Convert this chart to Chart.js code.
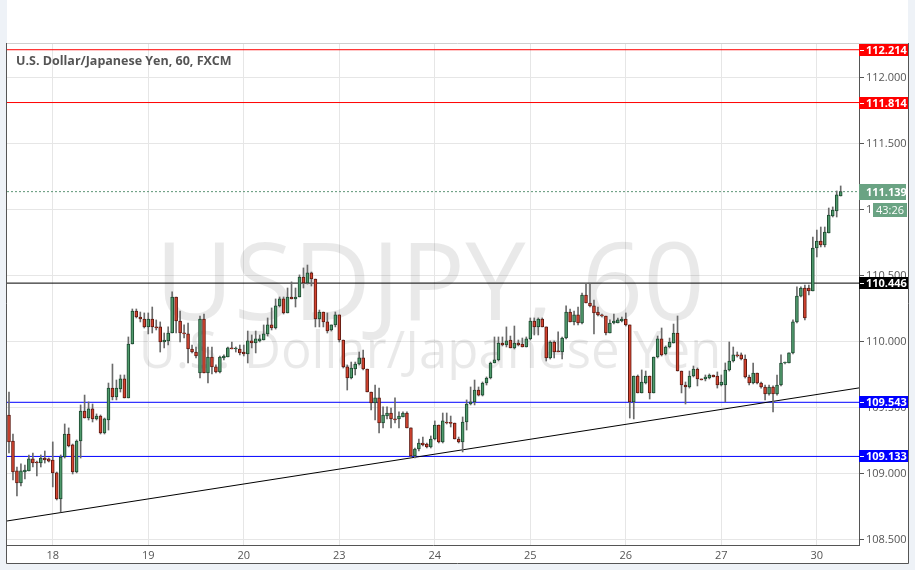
<!DOCTYPE html>
<html>
<head>
<meta charset="utf-8">
<script src="https://cdn.jsdelivr.net/npm/chart.js@4.4.1/dist/chart.umd.min.js"></script>
<style>
    html, body { margin: 0; padding: 0; background: #eef2f7; }
    #wrap { position: relative; width: 915px; height: 570px; }
</style>
</head>
<body>
<div id="wrap"><canvas id="chart" width="915" height="570"></canvas></div>
<script>
// USD/JPY hourly candles (FXCM)
const opens = [
    109.447, 109.250, 109.023, 108.932, 109.015, 109.023, 109.114, 109.091, 109.083, 109.121,
    109.114, 109.106, 109.008, 108.811, 109.129, 109.303, 109.220, 109.015, 109.250, 109.477,
    109.424, 109.493, 109.417, 109.439, 109.311, 109.409, 109.651, 109.583, 109.644, 109.720,
    109.576, 109.985, 110.235, 110.189, 110.174, 110.114, 110.174, 110.114, 110.114, 110.000,
    110.008, 110.068, 110.341, 110.159, 110.068, 110.061, 109.947, 109.924, 109.765, 110.174,
    109.765, 109.886, 109.811, 109.773, 109.879, 109.886, 109.955, 109.947, 109.947, 109.924,
    109.909, 110.008, 109.992, 110.008, 110.015, 110.061, 110.129, 110.106, 110.273, 110.326,
    110.220, 110.341, 110.326, 110.341, 110.492, 110.447, 110.523, 110.477, 110.174, 110.227,
    110.152, 110.091, 110.129, 110.205, 110.015, 109.811, 109.727, 109.795, 109.833, 109.879,
    109.795, 109.621, 109.538, 109.576, 109.386, 109.439, 109.462, 109.417, 109.417, 109.432,
    109.462, 109.349, 109.136, 109.189, 109.235, 109.227, 109.205, 109.265, 109.371, 109.243,
    109.394, 109.386, 109.386, 109.265, 109.243, 109.394, 109.530, 109.546, 109.636, 109.598,
    109.689, 109.727, 109.841, 109.864, 109.992, 109.977, 110.015, 109.955, 109.992, 109.985,
    109.962, 110.023, 110.159, 110.114, 110.174, 110.114, 109.879, 110.000, 109.932, 109.924,
    110.030, 110.227, 110.152, 110.205, 110.144, 110.356, 110.295, 110.273, 110.227, 110.205,
    110.197, 110.068, 110.144, 110.144, 110.159, 110.174, 110.129, 109.546, 109.742, 109.614,
    109.689, 109.742, 109.614, 109.886, 110.023, 109.909, 109.962, 109.992, 110.068, 109.780,
    109.674, 109.659, 109.742, 109.795, 109.720, 109.720, 109.727, 109.750, 109.742, 109.674,
    109.674, 109.788, 109.856, 109.902, 109.902, 109.871, 109.735, 109.689, 109.765, 109.689,
    109.659, 109.606, 109.659, 109.606, 109.674, 109.841, 109.841, 109.917, 110.152, 110.348,
    110.409, 110.409, 110.386, 110.712, 110.765, 110.735, 110.826, 110.955, 110.992, 111.106
];
const highs = [
    109.621, 109.303, 109.053, 109.076, 109.068, 109.144, 109.159, 109.098, 109.144, 109.174,
    109.121, 109.243, 109.015, 109.144, 109.379, 109.349, 109.227, 109.258, 109.523, 109.598,
    109.546, 109.530, 109.455, 109.447, 109.424, 109.689, 109.833, 109.712, 109.750, 109.750,
    110.038, 110.250, 110.250, 110.227, 110.220, 110.220, 110.265, 110.167, 110.152, 110.068,
    110.114, 110.379, 110.341, 110.235, 110.129, 110.144, 109.977, 109.962, 110.197, 110.212,
    109.962, 109.962, 109.826, 109.894, 109.902, 109.962, 110.000, 109.962, 109.977, 109.977,
    110.083, 110.053, 110.083, 110.053, 110.129, 110.182, 110.258, 110.326, 110.341, 110.341,
    110.409, 110.455, 110.409, 110.508, 110.561, 110.583, 110.530, 110.477, 110.242, 110.227,
    110.220, 110.129, 110.227, 110.205, 110.015, 109.826, 109.848, 109.848, 109.924, 109.939,
    109.795, 109.621, 109.674, 109.651, 109.508, 109.508, 109.500, 109.576, 109.470, 109.470,
    109.470, 109.349, 109.197, 109.265, 109.280, 109.235, 109.288, 109.402, 109.371, 109.462,
    109.462, 109.439, 109.386, 109.280, 109.432, 109.561, 109.659, 109.712, 109.659, 109.697,
    109.735, 109.848, 110.038, 110.038, 110.038, 110.114, 110.045, 110.121, 110.015, 110.030,
    110.038, 110.182, 110.182, 110.182, 110.182, 110.114, 110.008, 110.008, 110.076, 110.038,
    110.273, 110.250, 110.235, 110.265, 110.371, 110.439, 110.439, 110.318, 110.265, 110.212,
    110.197, 110.167, 110.212, 110.182, 110.189, 110.220, 110.129, 109.742, 109.750, 109.788,
    109.780, 109.742, 109.886, 110.045, 110.106, 109.970, 110.030, 110.136, 110.197, 109.780,
    109.697, 109.780, 109.818, 109.803, 109.720, 109.750, 109.758, 109.750, 109.773, 109.750,
    109.841, 110.000, 109.962, 109.924, 109.917, 109.902, 109.750, 109.841, 109.765, 109.697,
    109.674, 109.674, 109.667, 109.750, 109.902, 109.848, 109.917, 110.167, 110.417, 110.417,
    110.432, 110.432, 110.795, 110.848, 110.871, 110.871, 111.015, 111.023, 111.144, 111.182
];
const lows = [
    109.159, 108.955, 108.834, 108.909, 108.962, 109.023, 109.053, 108.985, 109.053, 109.083,
    109.091, 108.902, 108.803, 108.712, 109.121, 109.205, 109.000, 109.008, 109.121, 109.424,
    109.409, 109.394, 109.409, 109.303, 109.303, 109.333, 109.561, 109.561, 109.621, 109.576,
    109.576, 109.985, 110.182, 110.152, 110.106, 110.061, 110.068, 110.091, 109.924, 109.955,
    109.977, 110.068, 110.068, 110.000, 110.030, 109.841, 109.917, 109.879, 109.727, 109.765,
    109.689, 109.758, 109.765, 109.765, 109.864, 109.886, 109.947, 109.924, 109.902, 109.894,
    109.841, 109.955, 109.917, 110.000, 110.015, 110.045, 110.091, 110.098, 110.265, 110.212,
    110.220, 110.326, 110.265, 110.341, 110.409, 110.439, 110.424, 110.114, 110.114, 110.114,
    110.068, 110.083, 110.114, 110.000, 109.803, 109.636, 109.720, 109.750, 109.826, 109.788,
    109.621, 109.485, 109.409, 109.311, 109.349, 109.417, 109.349, 109.386, 109.349, 109.432,
    109.349, 109.129, 109.121, 109.174, 109.212, 109.197, 109.197, 109.258, 109.235, 109.235,
    109.379, 109.356, 109.265, 109.235, 109.167, 109.333, 109.523, 109.523, 109.591, 109.591,
    109.674, 109.720, 109.841, 109.856, 109.970, 109.962, 109.955, 109.947, 109.970, 109.962,
    109.962, 110.015, 110.053, 110.053, 110.114, 109.856, 109.871, 109.879, 109.924, 109.871,
    110.023, 110.152, 110.129, 110.129, 110.136, 110.295, 110.265, 110.061, 110.197, 110.189,
    110.053, 110.068, 110.136, 110.144, 110.152, 110.121, 109.424, 109.417, 109.614, 109.614,
    109.682, 109.568, 109.614, 109.879, 109.894, 109.902, 109.955, 109.992, 109.780, 109.614,
    109.530, 109.651, 109.735, 109.667, 109.712, 109.705, 109.720, 109.735, 109.651, 109.667,
    109.546, 109.780, 109.848, 109.886, 109.864, 109.727, 109.674, 109.682, 109.682, 109.651,
    109.561, 109.598, 109.470, 109.598, 109.667, 109.833, 109.841, 109.909, 110.144, 110.341,
    110.167, 110.356, 110.386, 110.644, 110.720, 110.720, 110.826, 110.947, 110.947, 111.106
];
const closes = [
    109.243, 109.015, 108.932, 109.023, 109.030, 109.114, 109.083, 109.083, 109.121, 109.106,
    109.098, 109.008, 108.811, 109.129, 109.303, 109.212, 109.015, 109.250, 109.477, 109.424,
    109.493, 109.417, 109.439, 109.311, 109.417, 109.651, 109.583, 109.651, 109.720, 109.576,
    109.985, 110.235, 110.189, 110.174, 110.114, 110.174, 110.114, 110.106, 110.000, 110.015,
    110.068, 110.341, 110.159, 110.068, 110.061, 109.947, 109.924, 109.894, 110.174, 109.765,
    109.886, 109.811, 109.773, 109.886, 109.894, 109.955, 109.947, 109.950, 109.917, 109.909,
    110.008, 109.992, 110.023, 110.023, 110.061, 110.129, 110.106, 110.273, 110.326, 110.220,
    110.341, 110.326, 110.341, 110.492, 110.447, 110.523, 110.477, 110.174, 110.227, 110.152,
    110.083, 110.129, 110.205, 110.015, 109.811, 109.727, 109.803, 109.833, 109.879, 109.795,
    109.621, 109.538, 109.576, 109.386, 109.447, 109.462, 109.417, 109.409, 109.439, 109.462,
    109.349, 109.136, 109.189, 109.235, 109.220, 109.205, 109.265, 109.371, 109.243, 109.402,
    109.386, 109.384, 109.265, 109.243, 109.394, 109.530, 109.546, 109.636, 109.598, 109.689,
    109.727, 109.841, 109.864, 109.992, 109.977, 110.008, 109.955, 109.992, 109.977, 109.962,
    110.023, 110.159, 110.114, 110.174, 110.114, 109.879, 110.000, 109.924, 109.926, 110.030,
    110.227, 110.152, 110.205, 110.144, 110.356, 110.295, 110.273, 110.220, 110.205, 110.197,
    110.068, 110.144, 110.159, 110.167, 110.174, 110.129, 109.546, 109.742, 109.614, 109.697,
    109.742, 109.614, 109.886, 110.023, 109.902, 109.962, 110.000, 110.068, 109.780, 109.674,
    109.659, 109.742, 109.795, 109.720, 109.712, 109.735, 109.750, 109.735, 109.674, 109.697,
    109.788, 109.856, 109.902, 109.894, 109.871, 109.735, 109.689, 109.765, 109.689, 109.659,
    109.606, 109.659, 109.606, 109.674, 109.841, 109.848, 109.917, 110.152, 110.348, 110.409,
    110.182, 110.386, 110.712, 110.765, 110.735, 110.833, 110.962, 111.000, 111.114, 111.139
];

// trading days shown on the time axis, first candle starts at 13:00 on day 17
const days = ['17', '18', '19', '20', '23', '24', '25', '26', '27', '30'];
const firstHour = 13;

// price axis ticks
const yTicks = [108.5, 109.0, 109.5, 110.0, 110.5, 111.0, 111.5, 112.0];

// horizontal levels drawn on the chart
const levelPrices = [112.214, 111.814, 110.446, 109.543, 109.133];
const levelColors = ['#ff0000', '#ff0000', '#000000', '#0000ff', '#0000ff'];

// rising trend line (start / end of the visible range)
const trendPrices = [108.644, 109.652];

const lastPrice = 111.139;
const countdown = '43:26';

const X_MIN = -0.5;
const X_MAX = 213.6;

// day label for every candle (only midnight candles carry one)
const candleDays = opens.map(function(v, i) {
    const h = firstHour + i;
    return h % 24 === 0 ? days[Math.floor(h / 24)] : '';
});

const upFill = '#4f9a6c', upLine = '#1d4a30';
const downFill = '#d4432f', downLine = '#5e1a12';
const isUp = opens.map(function(o, i) { return closes[i] >= o; });

const datasets = [];

// level lines
levelPrices.forEach(function(p, k) {
    datasets.push({
        type: 'line',
        data: [{ x: X_MIN, y: p }, { x: X_MAX, y: p }],
        borderColor: levelColors[k],
        borderWidth: 1,
        pointRadius: 0,
        order: 5
    });
});

// last price dotted line
datasets.push({
    type: 'line',
    data: [{ x: X_MIN, y: lastPrice }, { x: X_MAX, y: lastPrice }],
    borderColor: '#5f9677',
    borderWidth: 1,
    borderDash: [2, 2],
    pointRadius: 0,
    order: 5
});

// trend line
datasets.push({
    type: 'line',
    data: [{ x: X_MIN, y: trendPrices[0] }, { x: X_MAX, y: trendPrices[1] }],
    borderColor: '#000000',
    borderWidth: 1,
    pointRadius: 0,
    order: 4
});

// wicks
datasets.push({
    type: 'bar',
    data: opens.map(function(o, i) { return { x: i, y: [lows[i], highs[i]] }; }),
    backgroundColor: '#6b6b6b',
    barThickness: 1,
    grouped: false,
    order: 3
});

// bodies
datasets.push({
    type: 'bar',
    data: opens.map(function(o, i) { return { x: i, y: [o, closes[i]] }; }),
    backgroundColor: isUp.map(function(u) { return u ? upFill : downFill; }),
    borderColor: isUp.map(function(u) { return u ? upLine : downLine; }),
    borderWidth: 1,
    borderSkipped: false,
    barThickness: 3,
    minBarLength: 1,
    grouped: false,
    order: 2
});

const backdrop = {
    id: 'backdrop',
    beforeDraw(chart) {
        const c = chart.ctx;
        c.save();
        c.fillStyle = '#ffffff';
        c.fillRect(7, 0, 901, 563);
        c.restore();
    },
    beforeDatasetsDraw(chart) {
        const c = chart.ctx, a = chart.chartArea;
        const cx = (a.left + a.right) / 2;
        c.save();
        c.fillStyle = 'rgba(0,0,0,0.085)';
        c.textAlign = 'center';
        c.textBaseline = 'alphabetic';
        c.font = '108px "Open Sans", sans-serif';
        c.fillText('USDJPY, 60', cx - 3, 320);
        c.font = '51px "Open Sans", sans-serif';
        c.fillText('U.S. Dollar/Japanese Yen', cx - 3, 368);
        c.restore();
    },
    afterDraw(chart) {
        const c = chart.ctx, a = chart.chartArea;
        const y = chart.scales.y;
        c.save();
        // frame
        c.strokeStyle = '#cfcfcf';
        c.lineWidth = 1;
        c.beginPath();
        c.moveTo(a.left, a.top + 0.5);
        c.lineTo(908, a.top + 0.5);
        c.stroke();
        c.strokeStyle = '#555555';
        c.beginPath();
        c.moveTo(a.left - 0.5, a.top);
        c.lineTo(a.left - 0.5, 563.5);
        c.lineTo(908.5, 563.5);
        c.lineTo(908.5, a.top);
        c.stroke();

        // title
        c.fillStyle = '#555555';
        c.font = 'bold 12.5px "Open Sans", sans-serif';
        c.textAlign = 'left';
        c.textBaseline = 'middle';
        c.fillText('U.S. Dollar/Japanese Yen, 60, FXCM', 16, 61);

        // price boxes on the axis
        c.font = 'bold 11px "Open Sans", sans-serif';
        levelPrices.forEach(function(p, k) {
            const py = Math.round(y.getPixelForValue(p));
            c.fillStyle = levelColors[k];
            c.fillRect(a.right, py - 6, 49, 12);
            c.fillStyle = '#ffffff';
            c.fillRect(a.right + 1, py, 4, 1);
            c.fillText(p.toFixed(3), a.right + 7, py + 0.5);
        });
        const lp = Math.round(y.getPixelForValue(lastPrice));
        c.fillStyle = '#6aa383';
        c.fillRect(a.right, lp - 8, 47, 16);
        c.fillRect(a.right + 14, lp + 11, 34, 14);
        c.fillStyle = '#ffffff';
        c.fillText(lastPrice.toFixed(3), a.right + 7, lp + 0.5);
        c.font = '11px "Open Sans", sans-serif';
        c.fillText(countdown, a.right + 17, lp + 18.5);
        c.restore();
    }
};

new Chart(document.getElementById('chart'), {
    type: 'bar',
    data: { datasets: datasets },
    plugins: [backdrop],
    options: {
        responsive: false,
        animation: false,
        events: [],
        layout: { padding: { left: 7, right: 7, top: 43, bottom: 7 } },
        plugins: {
            legend: { display: false },
            tooltip: { enabled: false }
        },
        scales: {
            x: {
                type: 'linear',
                offset: false,
                min: X_MIN,
                max: X_MAX,
                afterBuildTicks(scale) {
                    const t = [];
                    candleDays.forEach(function(d, i) { if (d) t.push({ value: i }); });
                    scale.ticks = t;
                },
                afterFit(scale) { scale.height = 18; },
                ticks: {
                    autoSkip: false,
                    maxRotation: 0,
                    padding: 4,
                    color: '#555555',
                    font: { size: 11, family: '"Open Sans", sans-serif' },
                    callback: function(v) { return candleDays[v]; }
                },
                grid: { color: '#e6e6e6', drawTicks: false, offset: false },
                border: { color: '#555555' }
            },
            y: {
                type: 'linear',
                position: 'right',
                min: 108.462,
                max: 112.265,
                afterBuildTicks(scale) {
                    scale.ticks = yTicks.map(function(v) { return { value: v }; });
                },
                afterFit(scale) { scale.width = 49; },
                ticks: {
                    padding: 2,
                    color: '#555555',
                    font: { size: 11, family: '"Open Sans", sans-serif' },
                    callback: function(v) { return Number(v).toFixed(3); }
                },
                grid: { color: '#e6e6e6', tickColor: '#555555', tickLength: 5 },
                border: { color: '#555555' }
            }
        }
    }
});
</script>
</body>
</html>
